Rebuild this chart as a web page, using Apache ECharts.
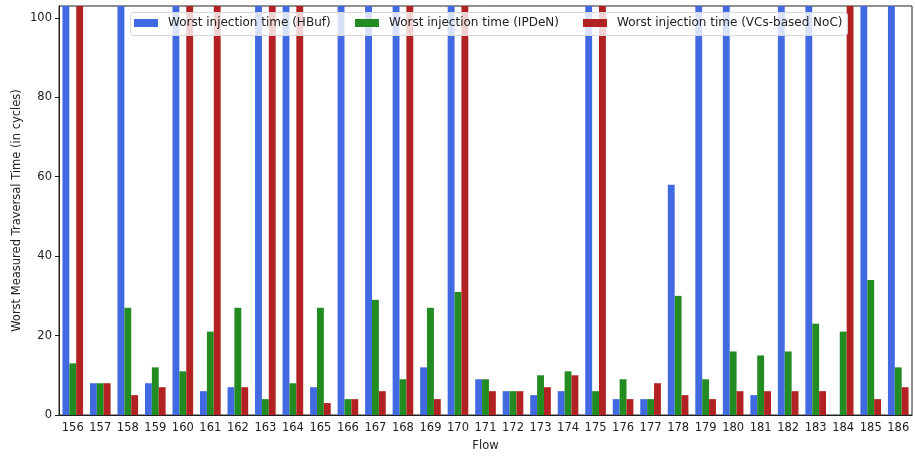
<!DOCTYPE html>
<html>
<head>
<meta charset="utf-8">
<script src="https://cdn.jsdelivr.net/npm/echarts@6/dist/echarts.min.js"></script>
<style>html,body{margin:0;padding:0;background:#fff}#c{width:915px;height:457px}</style>
</head>
<body>
<div id="c"></div>
<script>
const flows = ['156','157','158','159','160','161','162','163','164','165','166','167','168','169','170','171','172','173','174','175','176','177','178','179','180','181','182','183','184','185','186'];
const hbuf  = [150, 8, 150, 8, 150, 6, 7, 150, 150, 7, 150, 150, 150, 12, 150, 9, 6, 5, 6, 150, 4, 4, 58, 150, 150, 5, 150, 150, 0, 150, 150];
const ipden = [13, 8, 27, 12, 11, 21, 27, 4, 8, 27, 4, 29, 9, 27, 31, 9, 6, 10, 11, 6, 9, 4, 30, 9, 16, 15, 16, 23, 21, 34, 12];
const vcs   = [150, 8, 5, 7, 150, 150, 7, 150, 150, 3, 4, 6, 150, 4, 150, 6, 6, 7, 10, 150, 4, 8, 5, 4, 6, 6, 6, 6, 150, 4, 7];
const yTicks = [0, 20, 40, 60, 80, 100];
const names = ['Worst injection time (HBuf)', 'Worst injection time (IPDeN)', 'Worst injection time (VCs-based NoC)'];
const colors = ['#4169E1', '#228B22', '#B22222'];

const font = 'DejaVu Sans';
const chart = echarts.init(document.getElementById('c'));
const legendLefts = [134, 355, 583];
chart.setOption({
  animation: false,
  grid: { left: 59, right: 3, top: 6, bottom: 42, show: true, borderColor: '#222', borderWidth: 1, backgroundColor: 'transparent', outerBoundsMode: 'none', containLabel: false },
  graphic: [{
    type: 'rect', z: 3, left: 130, top: 12,
    shape: { width: 717, height: 23, r: 3 },
    style: { fill: 'rgba(255,255,255,0.8)', stroke: '#d8d8d8', lineWidth: 1 }
  }],
  legend: names.map((n, i) => ({
    data: [n], left: legendLefts[i], top: 17, z: 4,
    itemWidth: 24, itemHeight: 8, icon: 'rect', padding: 0,
    textStyle: { fontFamily: font, fontSize: 12, color: '#222', padding: [0, 0, 0, 5] }
  })),
  xAxis: {
    type: 'category', data: flows,
    name: 'Flow', nameLocation: 'middle', nameGap: 25, nameMoveOverlap: false,
    nameTextStyle: { fontFamily: font, fontSize: 11.5, color: '#222' },
    axisLine: { lineStyle: { color: '#222' } },
    axisTick: { alignWithLabel: true, length: 4, lineStyle: { color: '#222' } },
    axisLabel: { fontFamily: font, fontSize: 11.5, color: '#222', margin: 7, interval: 0 },
    splitLine: { show: false }
  },
  yAxis: {
    type: 'value', min: 0, max: 103, interval: 20,
    name: 'Worst Measured Traversal Time (in cycles)', nameLocation: 'middle', nameGap: 36,
    nameMoveOverlap: false,
    nameTextStyle: { fontFamily: font, fontSize: 11.5, color: '#222' },
    axisLine: { show: true, lineStyle: { color: '#222' } },
    axisTick: { show: true, length: 4, lineStyle: { color: '#222' }, customValues: yTicks },
    axisLabel: { fontFamily: font, fontSize: 11.5, color: '#222', margin: 7, customValues: yTicks },
    splitLine: { show: false }
  },
  series: [hbuf, ipden, vcs].map((d, i) => ({
    type: 'bar', name: names[i], data: d,
    barCategoryGap: '25%', barGap: '0%', clip: true,
    itemStyle: { color: colors[i] }
  }))
});
</script>
</body>
</html>
